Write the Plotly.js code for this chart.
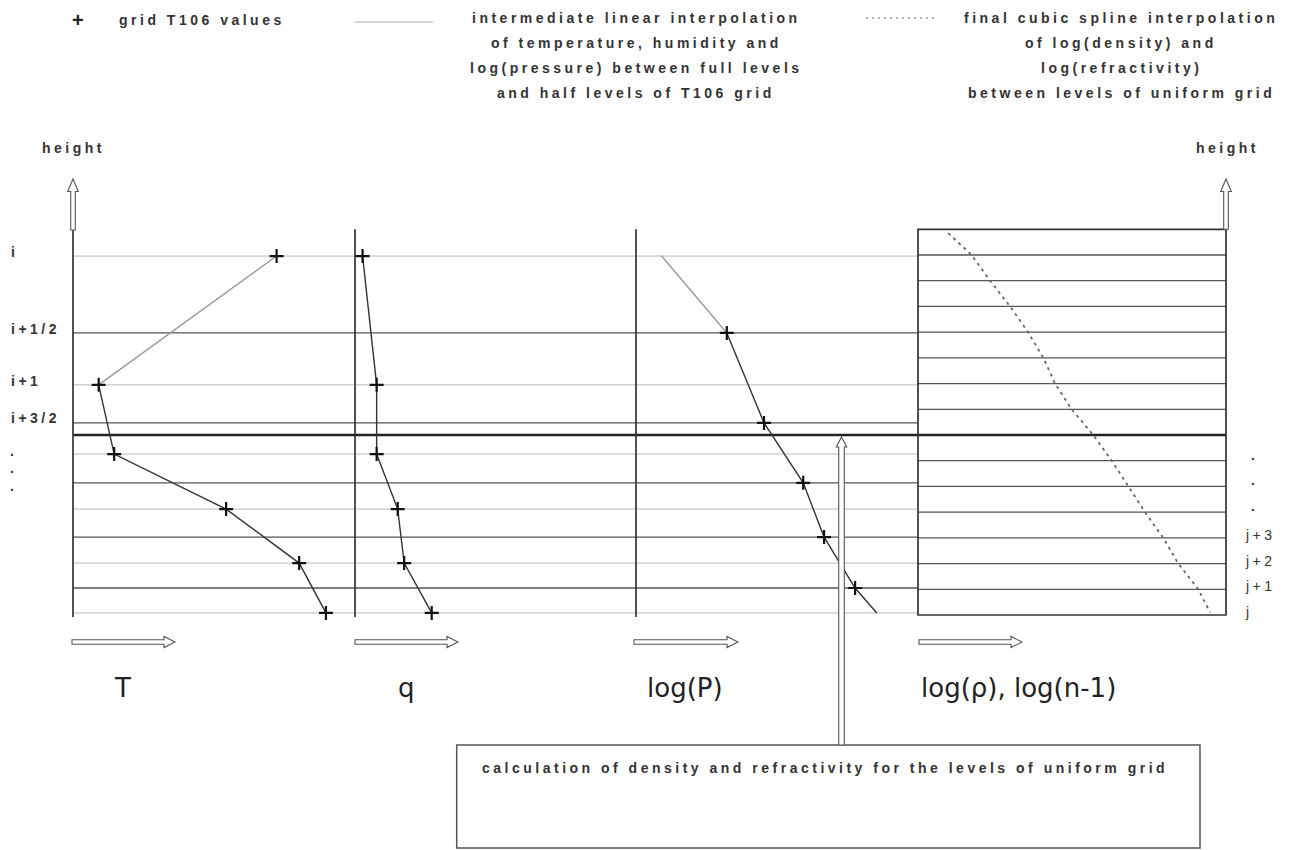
<!DOCTYPE html>
<html>
<head>
<meta charset="utf-8">
<script src="https://cdn.plot.ly/plotly-3.0.1.min.js"></script>
<style>
html,body{margin:0;padding:0;background:#fff;}
#chart{width:1301px;height:850px;}
.annotation-text[style*="Liberation"]{letter-spacing:3.5px;}
</style>
</head>
<body>
<div id="chart"></div>
<script>
// ---------------- data ----------------
// heights in units of the uniform-grid spacing (bottom uniform level = 0)
const t106FullHeights = [13.96, 8.95, 6.26, 4.12, 2.02, 0.08];
const t106HalfHeights = [10.97, 7.47, 5.14, 3.03, 1.05];
const uniformHeights  = [0, 1, 2, 3, 4, 5, 6, 7, 8, 9, 10, 11, 12, 13, 14, 15];
const fullLevelLabels = ['i', 'i+1'];
const halfLevelLabels = ['i+1/2', 'i+3/2'];
const uniformLevelLabels = ['j', 'j+1', 'j+2', 'j+3', '.', '.', '.'];
const calcLevelIndex = 7;   // uniform level where the calculation is shown

// values (arbitrary panel units 0..10)
const temperature = [7.22, 0.91, 1.46, 5.43, 8.02, 8.97];       // at full levels
const humidity    = [0.27, 0.77, 0.77, 1.52, 1.75, 2.73];       // at full levels
const logPressureHalf = [3.22, 4.54, 5.93, 6.67, 7.77];         // at half levels
const logPressureTop = 0.91;      // at top full level
const logPressureBottom = 8.54;   // at bottom full level
const splineHeights = [14.85, 14, 13, 12, 11, 10, 9, 8, 7, 6, 5, 4, 3, 2, 1, 0.1];
const splineValues  = [0.98, 1.74, 2.34, 2.99, 3.57, 4.07, 4.45, 4.99, 5.69, 6.29, 6.83, 7.37, 7.96, 8.45, 9.10, 9.48];

const panelLabels = ['T', 'q', 'log(P)', 'log(ρ), log(n-1)'];
const legendTexts = {
  marker: 'grid T106 values',
  linear: ['intermediate linear interpolation', 'of temperature, humidity and',
           'log(pressure) between full levels', 'and half levels of T106 grid'],
  spline: ['final cubic spline interpolation', 'of log(density) and',
           'log(refractivity)', 'between levels of uniform grid']
};
const heightLabel = 'height';
const calcText = 'calculation of density and refractivity for the levels of uniform grid';

// ---------------- layout geometry (pixels) ----------------
const W = 1301, H = 850;
const yTopPx = 229.3, yBotPx = 615;
const unit = (yBotPx - yTopPx) / 15;
const pad = 0.5;
const panelEdges = [73, 355, 636, 918, 1226];

const smallFont = {family: 'Liberation Sans, Arial, sans-serif', size: 14, color: '#333', weight: 'bold'};
const labelFont = {family: 'Liberation Sans, Arial, sans-serif', size: 14, color: '#333'};
const bigFont = {family: 'DejaVu Sans, sans-serif', size: 26, color: '#222'};

const crossMarker = {symbol: 'cross-thin', size: 10, line: {width: 2.2, color: '#111'}};
const darkLine = {color: '#333', width: 1.4};
const greyLine = {color: '#9a9a9a', width: 1.4};

const traces = [];
// Temperature
traces.push({x: temperature.slice(0, 2), y: t106FullHeights.slice(0, 2), xaxis: 'x', yaxis: 'y', mode: 'lines', line: greyLine});
traces.push({x: temperature.slice(1), y: t106FullHeights.slice(1), xaxis: 'x', yaxis: 'y', mode: 'lines', line: darkLine});
traces.push({x: temperature, y: t106FullHeights, xaxis: 'x', yaxis: 'y', mode: 'markers', marker: crossMarker});
// Humidity
traces.push({x: humidity, y: t106FullHeights, xaxis: 'x2', yaxis: 'y', mode: 'lines+markers', line: darkLine, marker: crossMarker});
// log(P)
const pH = [t106FullHeights[0]].concat(t106HalfHeights, [t106FullHeights[t106FullHeights.length - 1]]);
const pV = [logPressureTop].concat(logPressureHalf, [logPressureBottom]);
traces.push({x: pV.slice(0, 2), y: pH.slice(0, 2), xaxis: 'x3', yaxis: 'y', mode: 'lines', line: greyLine});
traces.push({x: pV.slice(1), y: pH.slice(1), xaxis: 'x3', yaxis: 'y', mode: 'lines', line: darkLine});
traces.push({x: logPressureHalf, y: t106HalfHeights, xaxis: 'x3', yaxis: 'y', mode: 'markers', marker: crossMarker});
// spline
traces.push({x: splineValues, y: splineHeights, xaxis: 'x4', yaxis: 'y', mode: 'lines', line: {color: '#666', width: 1.8, dash: '3px,4px'}});
// decoration subplot placeholder
traces.push({x: [null], y: [null], xaxis: 'x5', yaxis: 'y5', mode: 'markers', hoverinfo: 'skip'});

const shapes = [];
const P = v => v / W;
function hline(h, x0, x1, color, width, dash) {
  shapes.push({type: 'line', xref: 'paper', yref: 'y', x0: P(x0), x1: P(x1), y0: h, y1: h,
               line: {color: color, width: width, dash: dash || 'solid'}, layer: 'below'});
}
t106FullHeights.forEach(h => hline(h, panelEdges[0], panelEdges[3], '#b8b8b8', 1));
t106HalfHeights.forEach(h => hline(h, panelEdges[0], panelEdges[3], '#555', 1.3));
uniformHeights.slice(1, -1).forEach((h, k) => { if (k + 1 !== calcLevelIndex) hline(h, panelEdges[3], panelEdges[4], '#555', 1.3); });
hline(uniformHeights[calcLevelIndex], panelEdges[0], panelEdges[4], '#222', 2.6);
// vertical axes
panelEdges.slice(0, 3).forEach(x => shapes.push({type: 'line', xref: 'paper', yref: 'y', x0: P(x), x1: P(x),
  y0: -0.08, y1: 15, line: {color: '#333', width: 1.7}, layer: 'below'}));
// uniform grid box
shapes.push({type: 'rect', xref: 'paper', yref: 'y', x0: P(panelEdges[3]), x1: P(panelEdges[4]), y0: 0, y1: 15,
  line: {color: '#333', width: 1.7}, layer: 'below'});

// hollow arrows (pixel space x5/y5)
function upArrow(cx, tip, headBase, tail, sh, hh) {
  return `M${cx - sh},${tail} L${cx - sh},${headBase} L${cx - hh},${headBase} L${cx},${tip} L${cx + hh},${headBase} L${cx + sh},${headBase} L${cx + sh},${tail} Z`;
}
function rightArrow(x0, tip, cy, sh, hh, hl) {
  const b = tip - hl;
  return `M${x0},${cy - sh} L${b},${cy - sh} L${b},${cy - hh} L${tip},${cy} L${b},${cy + hh} L${b},${cy + sh} L${x0},${cy + sh} Z`;
}
const arrowStyle = {line: {color: '#555', width: 1.1}, fillcolor: 'white', layer: 'above', xref: 'x5', yref: 'y5', type: 'path'};
shapes.push(Object.assign({path: upArrow(73, 179, 191.5, 230, 2.3, 5.3)}, arrowStyle));
shapes.push(Object.assign({path: upArrow(1226, 179, 191.5, 229.3, 2.3, 5.3)}, arrowStyle));
shapes.push(Object.assign({path: upArrow(841.5, 437, 447, 745, 2.8, 5.2)}, arrowStyle));
[[72, 175], [355, 458], [634, 738], [919, 1022]].forEach(a =>
  shapes.push(Object.assign({path: rightArrow(a[0], a[1], 642, 2.2, 5.5, 11)}, arrowStyle)));
// calculation box
shapes.push({type: 'rect', xref: 'x5', yref: 'y5', x0: 456.7, x1: 1200, y0: 745, y1: 848,
  line: {color: '#555', width: 1.5}, layer: 'below'});
// legend samples
shapes.push({type: 'line', xref: 'x5', yref: 'y5', x0: 355, x1: 433, y0: 22, y1: 22, line: {color: '#aaa', width: 1.2}});
shapes.push({type: 'line', xref: 'x5', yref: 'y5', x0: 866, x1: 936, y0: 18, y1: 18, line: {color: '#999', width: 1.4, dash: '2px,4px'}});

const ann = [];
function txt(x, y, text, opts) {
  ann.push(Object.assign({xref: 'x5', yref: 'y5', x: x, y: y, text: text, showarrow: false,
    xanchor: 'center', yanchor: 'middle', font: smallFont}, opts || {}));
}
txt(79, 20, '+', {font: {family: 'Liberation Sans, Arial', size: 20, color: '#222', weight: 'bold'}});
txt(117, 20, legendTexts.marker, {xanchor: 'left'});
const rowY = [18, 43, 68, 93];
legendTexts.linear.forEach((t, k) => txt(636, rowY[k], t));
legendTexts.spline.forEach((t, k) => txt(1121, rowY[k], t));
txt(73, 148, heightLabel);
txt(1227, 148, heightLabel);
// level labels (positioned on the height axis)
function levelLabel(h, text, x, shift, font) {
  ann.push({xref: 'x5', yref: 'y', x: x, y: h, text: text, showarrow: false, xanchor: 'left', yanchor: 'middle',
            yshift: shift, font: font || smallFont});
}
levelLabel(t106FullHeights[0], fullLevelLabels[0], 9, 4);
levelLabel(t106FullHeights[1], fullLevelLabels[1], 9, 4);
levelLabel(t106HalfHeights[0], halfLevelLabels[0], 9, 4);
levelLabel(t106HalfHeights[1], halfLevelLabels[1], 9, 5);
[454, 471, 489].forEach(y => txt(13, y - 3, '.', {}));
uniformLevelLabels.forEach((t, k) => levelLabel(uniformHeights[k], t, t === '.' ? 1249 : 1243, t === '.' ? 6 : 3, t === '.' ? smallFont : labelFont));
// panel labels
txt(122, 688, panelLabels[0], {font: bigFont});
txt(406, 688, panelLabels[1], {font: bigFont});
txt(685, 688, panelLabels[2], {font: bigFont});
txt(919, 688, panelLabels[3], {font: bigFont, xanchor: 'left'});
txt(480, 768, calcText, {xanchor: 'left'});

const hidden = {visible: false, fixedrange: true, showgrid: false, zeroline: false};
const layout = {
  width: W, height: H,
  margin: {l: 0, r: 0, t: 0, b: 0},
  paper_bgcolor: '#fff', plot_bgcolor: 'rgba(0,0,0,0)',
  showlegend: false,
  xaxis:  Object.assign({domain: [P(panelEdges[0]), P(panelEdges[1])], range: [0, 10], anchor: 'y'}, hidden),
  xaxis2: Object.assign({domain: [P(panelEdges[1]), P(panelEdges[2])], range: [0, 10], anchor: 'y'}, hidden),
  xaxis3: Object.assign({domain: [P(panelEdges[2]), P(panelEdges[3])], range: [0, 10], anchor: 'y'}, hidden),
  xaxis4: Object.assign({domain: [P(panelEdges[3]), P(panelEdges[4])], range: [0, 10], anchor: 'y'}, hidden),
  yaxis:  Object.assign({domain: [1 - (yBotPx + pad * unit) / H, 1 - (yTopPx - pad * unit) / H], range: [-pad, 15 + pad], anchor: 'x'}, hidden),
  xaxis5: Object.assign({domain: [0, 1], range: [0, W], anchor: 'y5'}, hidden),
  yaxis5: Object.assign({domain: [0, 1], range: [H, 0], anchor: 'x5'}, hidden),
  shapes: shapes,
  annotations: ann
};
Plotly.newPlot('chart', traces, layout, {staticPlot: true, displayModeBar: false});
</script>
</body>
</html>
